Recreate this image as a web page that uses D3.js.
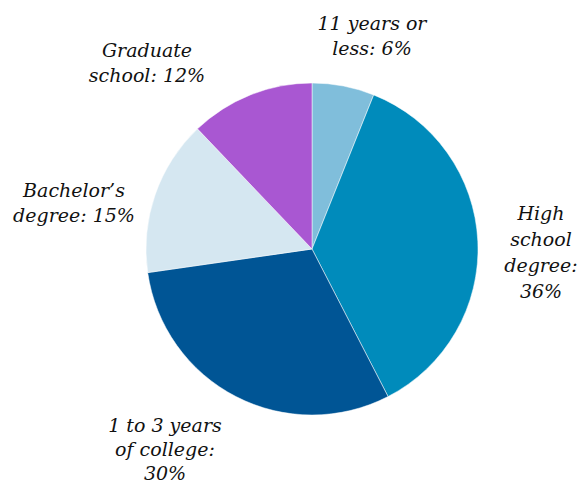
<!DOCTYPE html>
<html><head><meta charset="utf-8">
<script src="https://cdn.jsdelivr.net/npm/d3@7"></script>
<style>body{margin:0;background:#fff}</style>
</head><body>
<svg id="c" width="577" height="483"></svg>
<script>
const categories = ["11 years or less", "High school degree", "1 to 3 years of college", "Bachelor’s degree", "Graduate school"];
const values = [6, 36, 30, 15, 12];
const labelLines = [
  ["11 years or", "less: 6%"],
  ["High", "school", "degree:", "36%"],
  ["1 to 3 years", "of college:", "30%"],
  ["Bachelor’s", "degree: 15%"],
  ["Graduate", "school: 12%"]
];
const colors = ["#80bedb", "#008bbb", "#005595", "#d5e7f1", "#a957d2"];

const svg = d3.select("#c");
const cx = 312, cy = 249, r = 166;
const g = svg.append("g").attr("transform", `translate(${cx},${cy})`);
const pie = d3.pie().sort(null).value(d => d);
const arcs = pie(values);
const arc = d3.arc().innerRadius(0).outerRadius(r);
g.selectAll("path").data(arcs).join("path")
  .attr("d", arc)
  .attr("fill", (d, i) => colors[i])
  .attr("stroke", "#fff").attr("stroke-width", 0.5);

const labelPos = [[372, 30], [541, 220], [165, 432], [74, 197], [147, 57]];
const lineH = [25, 26, 24, 25, 25];
labelLines.forEach((lines, i) => {
  const t = svg.append("text")
    .attr("x", labelPos[i][0]).attr("y", labelPos[i][1])
    .attr("text-anchor", "middle")
    .attr("font-family", "DejaVu Serif, serif")
    .attr("font-style", "italic")
    .attr("font-size", 19)
    .attr("fill", "#111");
  lines.forEach((l, j) => {
    t.append("tspan").attr("x", labelPos[i][0]).attr("dy", j === 0 ? 0 : lineH[i]).text(l);
  });
});
</script>
</body></html>
